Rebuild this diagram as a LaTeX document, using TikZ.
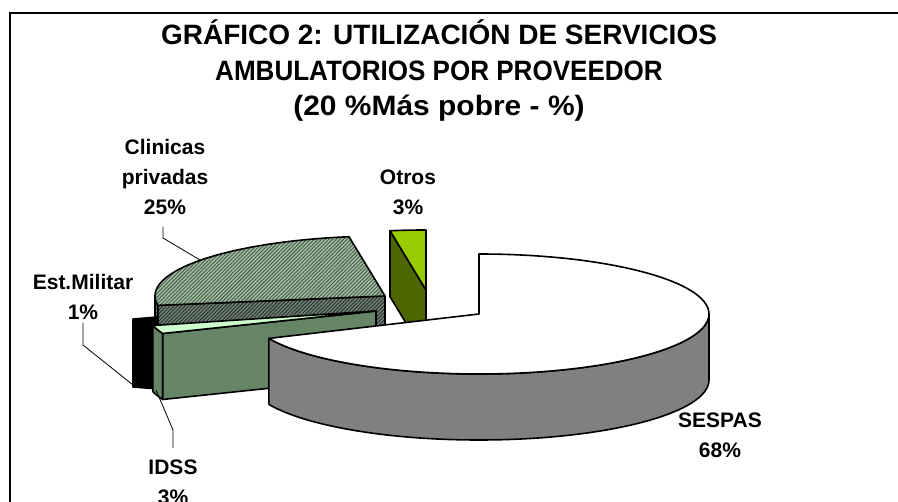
\documentclass[tikz,border=0pt]{standalone}
\usepackage{fontspec}
\setmainfont{Liberation Sans}
\usetikzlibrary{calc,patterns.meta}
\definecolor{sesside}{HTML}{808080}
\definecolor{otrtop}{HTML}{99CC00}
\definecolor{otrside}{HTML}{4D6600}
\definecolor{clibase}{HTML}{A6BCA6}
\definecolor{cliline}{HTML}{3E5A3E}
\definecolor{clisbase}{HTML}{72827A}
\definecolor{clisline}{HTML}{243024}
\definecolor{idtop}{HTML}{CCFFCC}
\definecolor{idside}{HTML}{668566}
\begin{document}
\begin{tikzpicture}[x=1pt,y=1pt,
  edge/.style={draw=black,line width=1.6pt,line join=round},
  clitop/.style={edge,preaction={fill=clibase},pattern={Lines[angle=45,distance=2.6pt,line width=0.9pt]},pattern color=cliline},
  cliside/.style={edge,preaction={fill=clisbase},pattern={Lines[angle=45,distance=2.6pt,line width=0.9pt]},pattern color=clisline},
  lbl/.style={font=\bfseries\fontsize{21}{30}\selectfont,align=center,inner sep=0pt},
  leader/.style={draw=black,line width=0.8pt},
  er/.style={x radius=230,y radius=60}]
\useasboundingbox (0,0) rectangle (898,-502);
\fill[white] (0,0) rectangle (898,-502);
\draw[line width=1.5pt] (10,-502) -- (10,-13) -- (898,-13);
\node[font=\bfseries\fontsize{28}{35.5}\selectfont,align=center,inner sep=0pt] (title) at (439,-71)
  {GRÁFICO 2: UTILIZACIÓN DE SERVICIOS\\\scalebox{0.93}[1]{AMBULATORIOS POR PROVEEDOR}\\\scalebox{1.07}[1]{(20 \%Más pobre - \%)}};
% centres
\coordinate (S) at (479,-314);
\coordinate (Cc) at (385,-296);
\coordinate (Co) at (426,-290);
\coordinate (Ci) at (376,-311);
% Otros
\draw[edge,fill=otrside] (Co) -- ($(Co)+(99:230 and 60)$) -- ++(0,-66) -- ($(Co)+(0,-66)$) -- cycle;
\draw[edge,fill=otrtop] (Co) -- ++(0,60) arc[start angle=90,end angle=99,er] -- cycle;
% Clinicas
\draw[cliside] (Cc) -- ($(Cc)+(189:230 and 60)$) -- ++(0,-66) -- ($(Cc)+(0,-66)$) -- cycle;
\draw[cliside] ($(Cc)+(180:230 and 60)$) arc[start angle=180,end angle=189,er] -- ++(0,-66) arc[start angle=189,end angle=180,er] -- cycle;
\draw[clitop] (Cc) -- ($(Cc)+(99:230 and 60)$) arc[start angle=99,end angle=189,er] -- cycle;
% Est. Militar
\draw[edge,fill=black] (133,-319) -- (158,-317) -- (158,-389) -- (133,-387) -- cycle;
% IDSS
\draw[edge,fill=idside] ($(Ci)+(194:230 and 60)$) arc[start angle=194,end angle=202,er] -- ++(0,-66) arc[start angle=202,end angle=194,er] -- cycle;
\draw[edge,fill=idside] (Ci) -- ($(Ci)+(202:230 and 60)$) -- ++(0,-66) -- ($(Ci)+(0,-66)$) -- cycle;
\draw[edge,fill=idtop] (Ci) -- ($(Ci)+(194:230 and 60)$) arc[start angle=194,end angle=202,er] -- cycle;
% SESPAS
\draw[edge,fill=sesside] ($(S)+(-156:230 and 60)$) arc[start angle=-156,end angle=0,er] -- ++(0,-66) arc[start angle=0,end angle=-156,er] -- cycle;
\draw[edge,fill=white] (S) -- ++(0,60) arc[start angle=90,end angle=-156,er] -- cycle;
% labels
\node[lbl] (lcli) at (165,-177) {Clinicas\\privadas\\25\%};
\node[lbl] (lotr) at (408,-192.5) {Otros\\3\%};
\node[lbl] (lmil) at (83,-297) {Est.Militar\\1\%};
\node[lbl] (lids) at (173,-482) {IDSS\\3\%};
\node[lbl] (lses) at (720,-435) {SESPAS\\68\%};
% leader lines
\coordinate (c1) at (163,-227); \coordinate (c2) at (200,-260);
\coordinate (m1) at (83,-323); \coordinate (m2) at (133,-385);
\coordinate (i1) at (156,-390); \coordinate (i2) at (173,-448);
\draw[leader] (c1) -- ++(0,-11) -- (c2);
\draw[leader] (m1) -- ++(0,-22) -- (m2);
\draw[leader] (i1) -- (173,-430) -- (i2);
\end{tikzpicture}
\end{document}
